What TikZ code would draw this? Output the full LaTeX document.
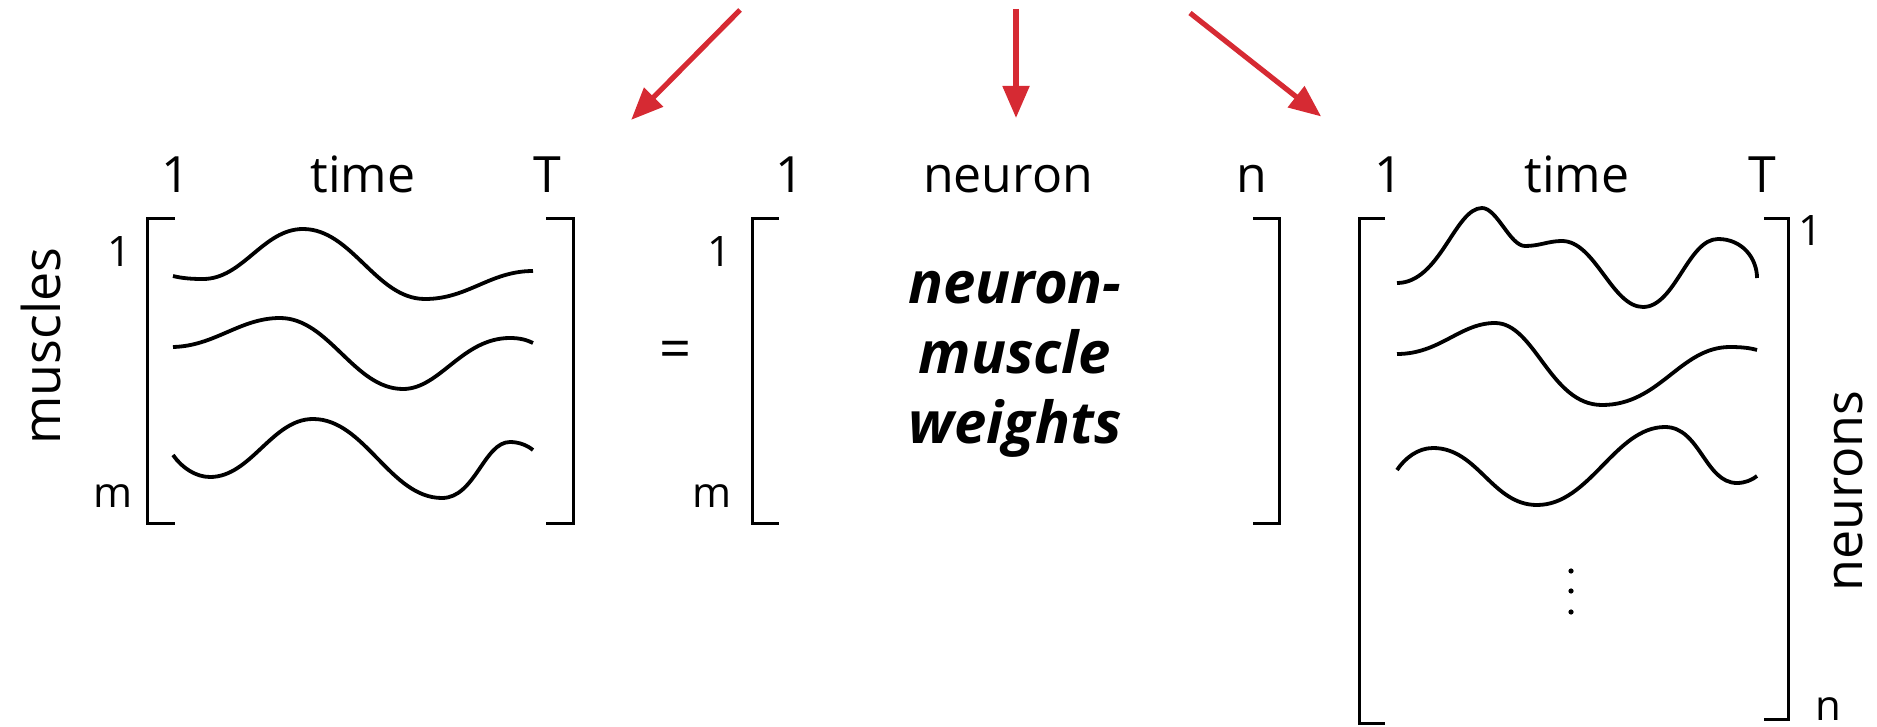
\documentclass[tikz,border=0pt]{standalone}
\usepackage{fontspec}
\setmainfont{Open Sans}
\usetikzlibrary{arrows.meta}
\definecolor{arrred}{RGB}{214,42,51}
\tikzset{
  lbl/.style={inner sep=0pt, anchor=base, font=\fontsize{25}{30}\selectfont},
  rowlbl/.style={inner sep=0pt, anchor=base, font=\fontsize{21}{25}\selectfont},
  axlbl/.style={inner sep=0pt, anchor=base, rotate=90, font=\fontsize{26}{30}\selectfont},
  brk/.style={line width=1.5pt, line cap=rect},
  wave/.style={line width=1.9pt},
  redarrow/.style={draw=arrred, line width=2.6pt, -{Triangle[length=16pt,width=13pt]}, shorten >=-2pt}
}
\begin{document}
\begin{tikzpicture}[x=0.5pt,y=-0.5pt]
\useasboundingbox (0,0) rectangle (1877,727);

% red arrows
\coordinate (a1s) at (740,10);  \coordinate (a1e) at (634,117);
\coordinate (a2s) at (1016,9);  \coordinate (a2e) at (1016,114);
\coordinate (a3s) at (1190,13); \coordinate (a3e) at (1318,114);
\draw[redarrow] (a1s) -- (a1e);
\draw[redarrow] (a2s) -- (a2e);
\draw[redarrow] (a3s) -- (a3e);

% ---------- left matrix ----------
\node[lbl] (l1) at (176,193) {1};
\node[lbl] (ltime) at (363,192) {time};
\node[lbl] (lT) at (547,193) {T};
\node[rowlbl] (lr1) at (120,266) {1};
\node[rowlbl] (lrm) at (113,507) {m};
\node[axlbl] (muscles) at (60,346) {muscles};
\draw[brk] (173,219) -- (147,219) -- (147,523) -- (173,523);
\draw[brk] (547,219) -- (573,219) -- (573,523) -- (547,523);
\draw[wave] (173,276) .. controls (183,278.5) and (193,279) .. (203,279)
  .. controls (243,279) and (263,229) .. (303,229)
  .. controls (352,229) and (376,299) .. (425,299)
  .. controls (468,299) and (490,271) .. (533,271);
\draw[wave] (173,347) .. controls (215,346) and (240,318) .. (280,318)
  .. controls (329,318) and (354,389) .. (403,389)
  .. controls (440,389) and (462,338) .. (510,338)
  .. controls (520,338) and (527,340) .. (533,343);
\draw[wave] (173,455) .. controls (182,468) and (196,477) .. (210,477)
  .. controls (251,477) and (272,419) .. (313,419)
  .. controls (365,419) and (390,498) .. (442,498)
  .. controls (475,498) and (484,442) .. (510,442)
  .. controls (520,442) and (528,446) .. (533,450);

% equals sign
\node[inner sep=0pt, font=\fontsize{28}{30}\selectfont] (eq) at (675,355) {=};

% ---------- middle matrix ----------
\node[lbl] (m1) at (790,193) {1};
\node[lbl] (mneuron) at (1008,192) {neuron};
\node[lbl] (mn) at (1252,193) {n};
\node[rowlbl] (mr1) at (719,266) {1};
\node[rowlbl] (mrm) at (712,507) {m};
\draw[brk] (777,219) -- (752,219) -- (752,523) -- (777,523);
\draw[brk] (1254,219) -- (1279,219) -- (1279,523) -- (1254,523);
\node[inner sep=0pt, align=center, font=\fontsize{29}{35}\selectfont\bfseries\itshape] (weights) at (1015,364) {neuron-\\muscle\\weights};

% ---------- right matrix ----------
\node[lbl] (r1) at (1389,193) {1};
\node[lbl] (rtime) at (1577,192) {time};
\node[lbl] (rT) at (1762,193) {T};
\node[rowlbl] (rr1) at (1810,245) {1};
\node[rowlbl] (rrn) at (1828,720) {n};
\node[axlbl] (neurons) at (1862,491) {neurons};
\draw[brk] (1383,219) -- (1359,219) -- (1359,723) -- (1383,723);
\draw[brk] (1765,219) -- (1788,219) -- (1788,719) -- (1765,719);
\draw[wave] (1397,283) .. controls (1440,283) and (1455,208) .. (1482,208)
  .. controls (1497,208) and (1510,246) .. (1525,246)
  .. controls (1540,246) and (1548,241) .. (1562,241)
  .. controls (1595,241) and (1612,307) .. (1643,307)
  .. controls (1675,307) and (1688,239) .. (1718,239)
  .. controls (1742,239) and (1757,258) .. (1757,278);
\draw[wave] (1397,354) .. controls (1440,354) and (1460,323) .. (1495,323)
  .. controls (1535,323) and (1550,405) .. (1602,405)
  .. controls (1660,405) and (1680,347) .. (1730,347)
  .. controls (1742,347) and (1750,348) .. (1757,350);
\draw[wave] (1397,470) .. controls (1405,458) and (1418,448) .. (1433,448)
  .. controls (1478,448) and (1492,505) .. (1537,505)
  .. controls (1590,505) and (1615,427) .. (1665,427)
  .. controls (1700,427) and (1705,483) .. (1737,483)
  .. controls (1745,483) and (1752,480) .. (1757,476);
\fill (1571,571) circle (2.6) (1571,591) circle (2.6) (1571,612) circle (2.6);
\end{tikzpicture}
\end{document}
